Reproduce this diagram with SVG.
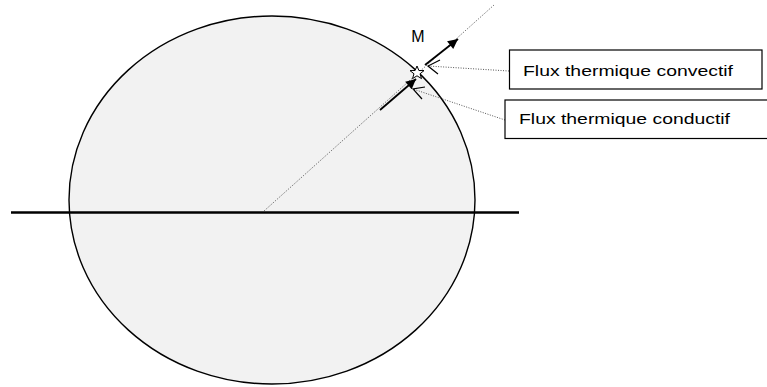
<svg xmlns="http://www.w3.org/2000/svg" width="767" height="387" viewBox="0 0 767 387">
<style>
.dot{stroke:#555;stroke-width:1;stroke-dasharray:1,1.5;fill:none}
.vec{stroke:#000;stroke-width:1.8;fill:none}
.open{stroke:#000;stroke-width:1.2;fill:none}
.box{fill:#fff;stroke:#000;stroke-width:1.2}
.lbl{font-family:"Liberation Sans",Arial,sans-serif;font-size:14px;fill:#000}
.big{font-size:16px}
</style>
<defs>
<marker id="ah" viewBox="0 0 10 10" refX="10" refY="5" markerWidth="12" markerHeight="10" markerUnits="userSpaceOnUse" orient="auto">
<path d="M0,0 L10,5 L0,10 Z" fill="#000"/>
</marker>
</defs>
<g id="sphere">
<ellipse cx="272" cy="200" rx="203" ry="184" fill="#f2f2f2" stroke="#000" stroke-width="1.4"/>
</g>
<g id="ground">
<line x1="11" y1="212.5" x2="519" y2="212.5" stroke="#000" stroke-width="2.6"/>
</g>
<g id="connectors">
<line class="dot" x1="264" y1="211" x2="494" y2="5"/>
<line class="vec" x1="380" y1="110" x2="416" y2="79" marker-end="url(#ah)"/>
<line class="vec" x1="425" y1="65" x2="458" y2="39" marker-end="url(#ah)"/>
<line class="dot" x1="509" y1="71" x2="428" y2="66"/>
<polyline class="open" points="440,60 428,66 438,74"/>
<line class="dot" x1="505" y1="120" x2="413" y2="89"/>
<polyline class="open" points="425,87 413,89 422,99"/>
</g>
<g id="M">
<polygon points="417,66 418.9,70.5 424,70.6 420,73.8 421.5,78.6 417,75.8 412.5,78.6 414,73.8 410,70.6 415.1,70.5" fill="#fff" stroke="#000" stroke-width="1"/>
<text class="lbl big" x="418" y="42" text-anchor="middle">M</text>
</g>
<g id="convectif">
<rect class="box" x="509.5" y="50" width="252.5" height="39"/>
<text class="lbl" x="523" y="76" textLength="210" lengthAdjust="spacingAndGlyphs">Flux thermique convectif</text>
</g>
<g id="conductif">
<rect class="box" x="505" y="100" width="270" height="38.5"/>
<text class="lbl" x="519" y="124" textLength="211" lengthAdjust="spacingAndGlyphs">Flux thermique conductif</text>
</g>
</svg>
